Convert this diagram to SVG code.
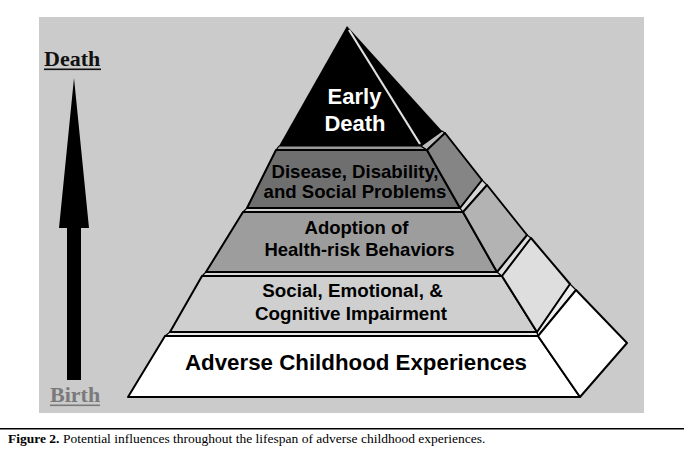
<svg xmlns="http://www.w3.org/2000/svg" width="684" height="451" viewBox="0 0 684 451">
<style>
.face{stroke:#000;stroke-width:2;stroke-linejoin:round}
.gap{stroke:#000;stroke-width:1.2;stroke-linejoin:round}
.lbl{font-family:"Liberation Sans",Arial,sans-serif;font-weight:bold;text-anchor:middle}
.ser{font-family:"Liberation Serif","Times New Roman",serif}
</style>
<rect x="0" y="0" width="684" height="451" fill="#fff"/>
<rect id="panel" x="39" y="17" width="605" height="396" fill="#cbcbcb"/>

<g id="arrow">
<polygon points="74,78 89,228 81,228 81,380 67,380 67,228 59,228" fill="#000"/>
</g>
<g id="label-death">
<text class="ser" x="44" y="66" font-size="22" font-weight="bold" fill="#111">Death</text>
<rect x="44" y="68.5" width="57" height="1.6" fill="#111"/>
</g>
<g id="label-birth">
<text class="ser" x="50" y="402" font-size="22" font-weight="bold" fill="#7a7a7a">Birth</text>
<rect x="50" y="404.5" width="50" height="1.6" fill="#7a7a7a"/>
</g>

<g id="level-adverse">
<polygon class="gap" points="170,332 537,332 538,336 165,336" fill="#e8e8e8"/>
<polygon class="gap" points="537,332 570,284 576,290 538,336" fill="#eeeeee"/>
<polygon class="face" points="165,336 538,336 580,397 128,397" fill="#fff"/>
<polygon class="face" points="538,336 576,290 627,343 580,397" fill="#fff"/>
<text class="lbl" x="356" y="370" font-size="22.3">Adverse Childhood Experiences</text>
</g>

<g id="level-social">
<polygon class="gap" points="206,272 497,272 502,276 202,276" fill="#d8d8d8"/>
<polygon class="gap" points="497,272 527,235 531,238 502,276" fill="#dddddd"/>
<polygon class="face" points="202,276 502,276 537,332 170,332" fill="#cfcfcf"/>
<polygon class="face" points="502,276 531,238 570,284 537,332" fill="#dedede"/>
<text class="lbl" x="352.5" y="297" font-size="18.8">Social, Emotional, &amp;</text>
<text class="lbl" x="351" y="320" font-size="18.8">Cognitive Impairment</text>
</g>

<g id="level-adoption">
<polygon class="gap" points="247,208 460,208 463,212 243,212" fill="#cfcfcf"/>
<polygon class="gap" points="460,208 482,180 487,185 463,212" fill="#d5d5d5"/>
<polygon class="face" points="243,212 463,212 497,272 206,272" fill="#9d9d9d"/>
<polygon class="face" points="463,212 487,185 527,235 497,272" fill="#b3b3b3"/>
<text class="lbl" x="356.5" y="234" font-size="18.5">Adoption of</text>
<text class="lbl" x="359.5" y="256" font-size="18.5">Health-risk Behaviors</text>
</g>

<g id="level-disease">
<polygon class="gap" points="279,146 421,146 427,150 276,150" fill="#9a9a9a"/>
<polygon class="gap" points="421,146 442,131 445,133 427,150" fill="#bbbbbb"/>
<polygon class="face" points="276,150 427,150 460,208 247,208" fill="#6f6f6f"/>
<polygon class="face" points="427,150 445,133 482,180 460,208" fill="#858585"/>
<text class="lbl" x="355" y="178" font-size="18.6">Disease, Disability,</text>
<text class="lbl" x="355" y="198" font-size="18.6">and Social Problems</text>
</g>

<g id="level-early-death">
<polygon points="347,26 421,146 279,146" fill="#000"/>
<polygon points="347,26 442,131 421,146" fill="#000"/>
<line x1="349" y1="30" x2="420" y2="144" stroke="#e0e0e0" stroke-width="2.2"/>
<text class="lbl" x="354.5" y="104" font-size="22" fill="#fff">Early</text>
<text class="lbl" x="355" y="131" font-size="22" fill="#fff">Death</text>
</g>

<g id="caption">
<rect x="0" y="428" width="684" height="1.5" fill="#000"/>
<text class="ser" x="8" y="443" font-size="13.5" fill="#000"><tspan font-weight="bold">Figure 2.</tspan> Potential influences throughout the lifespan of adverse childhood experiences.</text>
</g>
</svg>
